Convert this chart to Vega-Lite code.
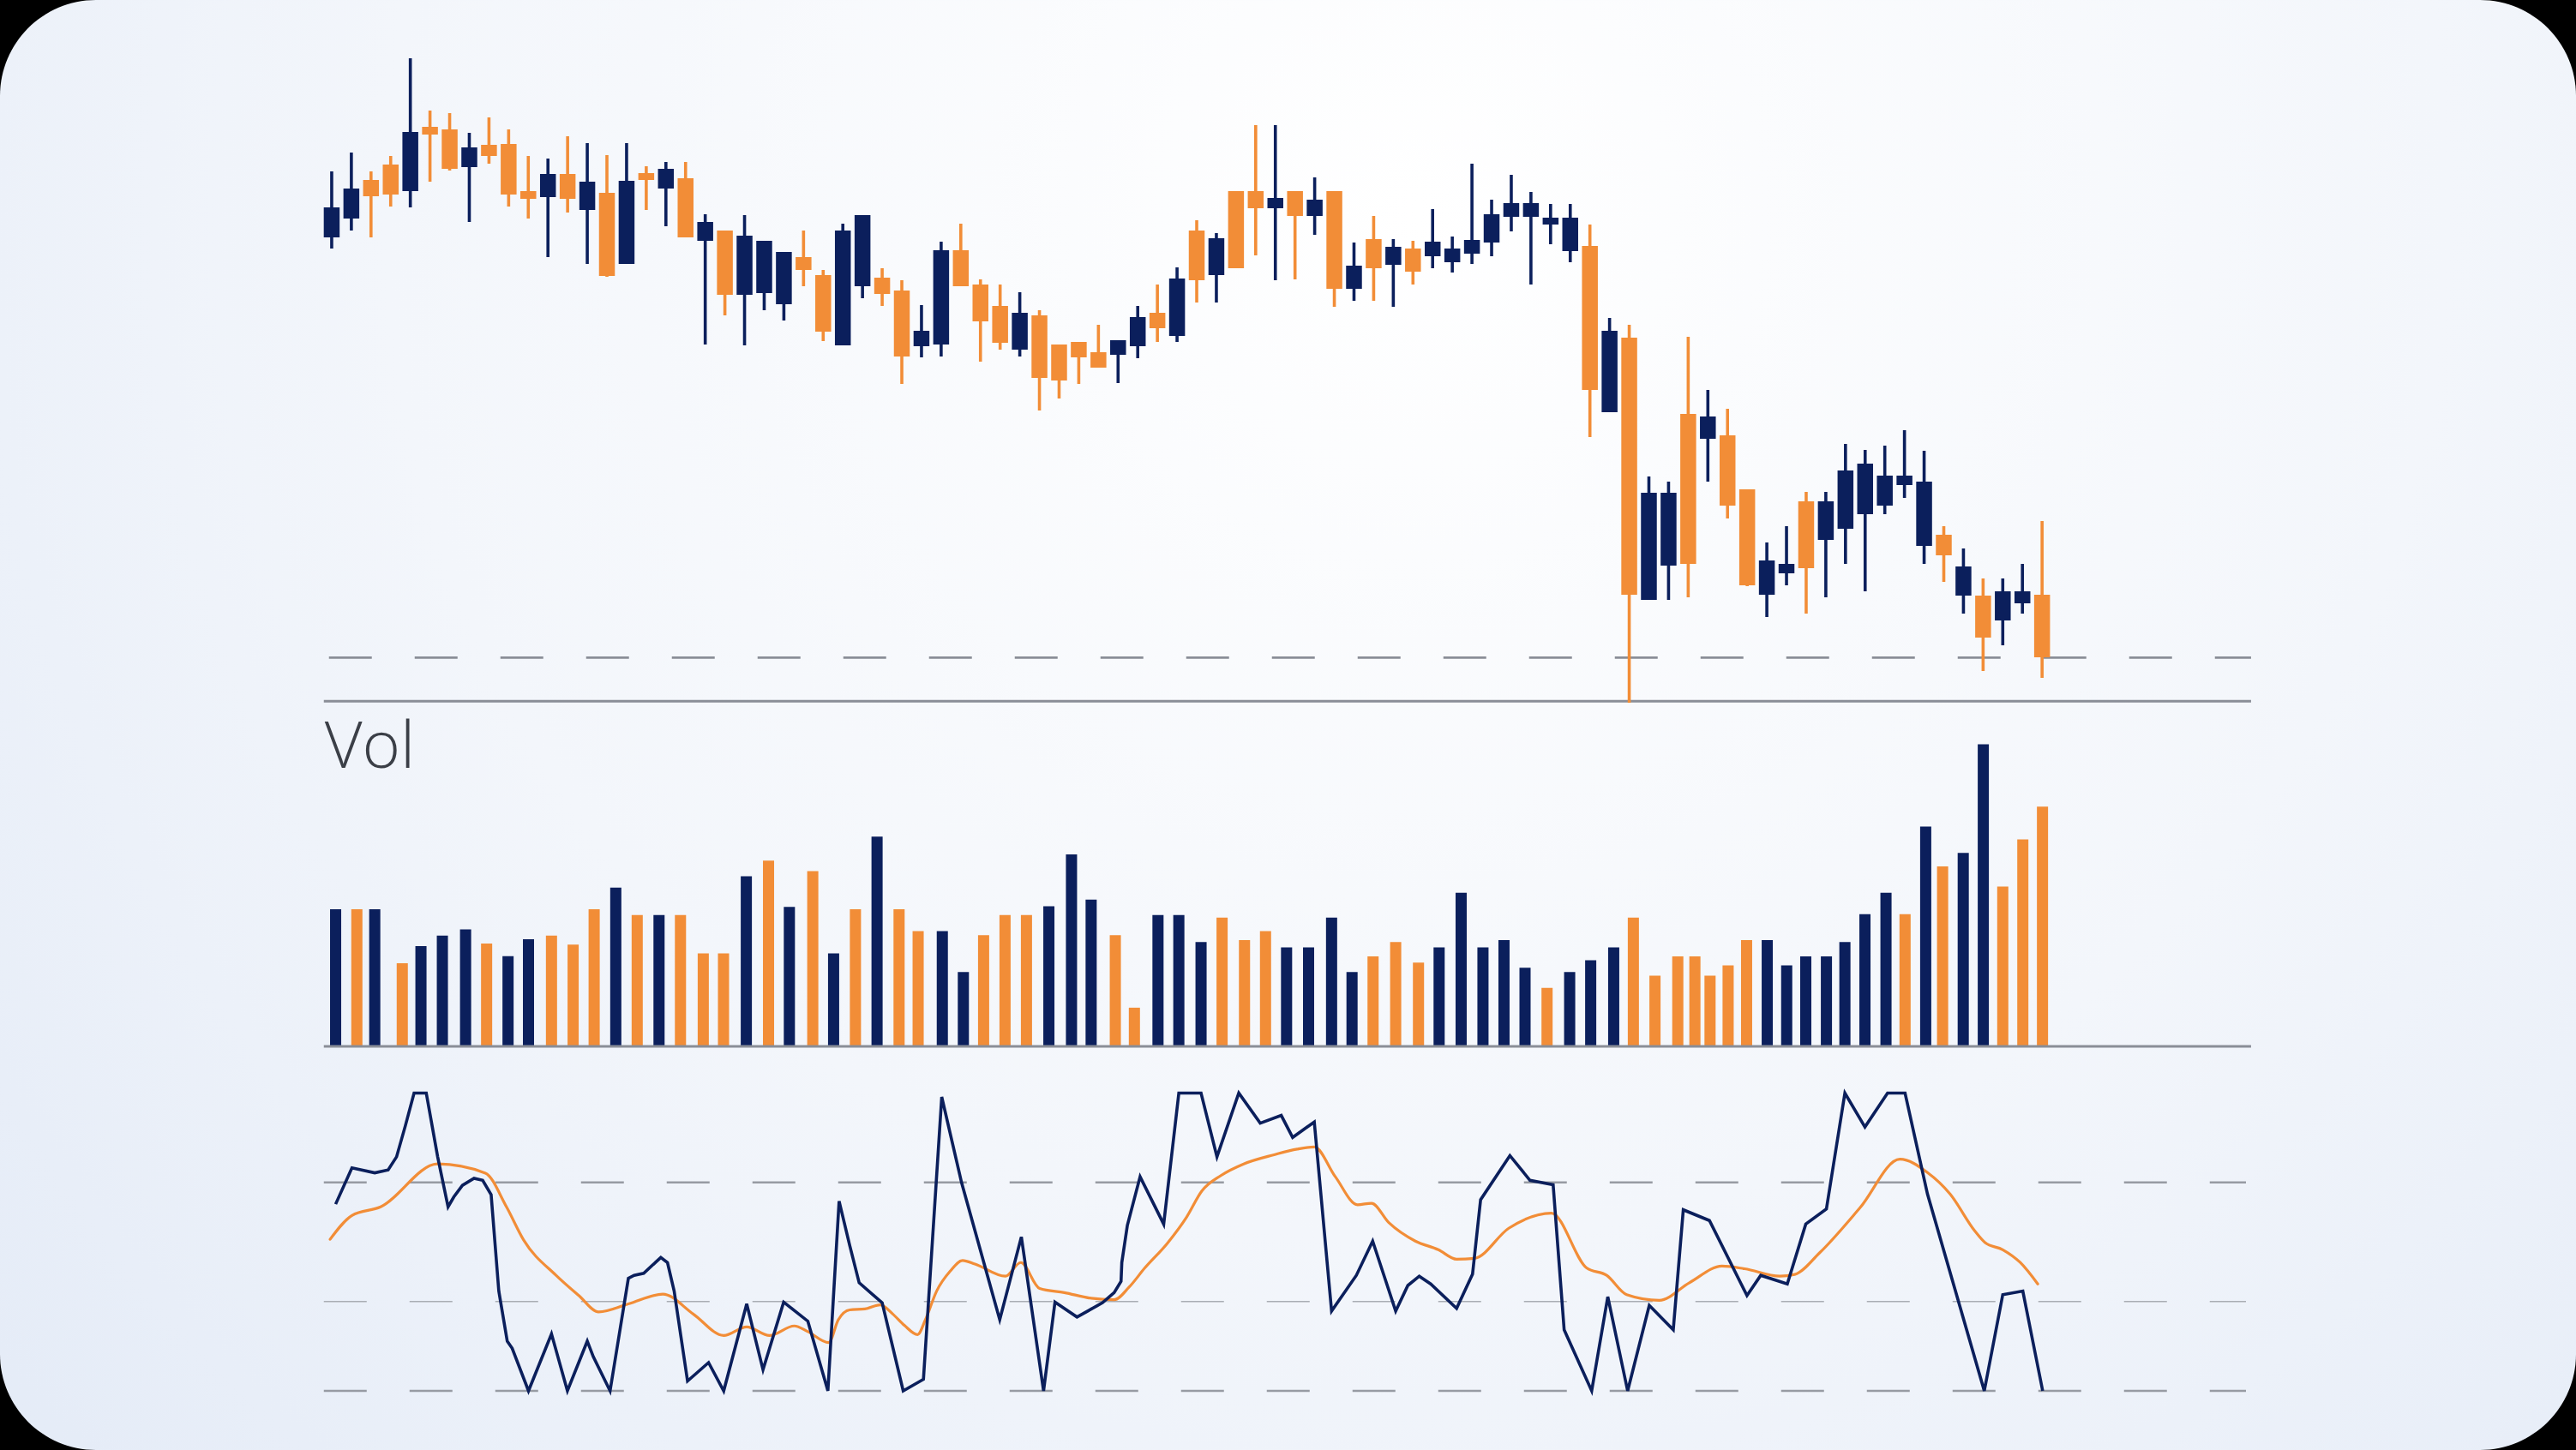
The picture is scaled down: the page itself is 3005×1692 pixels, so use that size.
{
  "$schema": "https://vega.github.io/schema/vega-lite/v6.json",
  "width": 3005,
  "height": 1692,
  "padding": 0,
  "autosize": {"type": "fit", "contains": "padding"},
  "background": "#000000",
  "config": {"view": {"stroke": null}},
  "datasets": {
    "candles": [
      {"t":0,"open":141.5,"high":149.2,"low":140.2,"close":145.0},
      {"t":1,"open":143.7,"high":151.4,"low":142.3,"close":147.2},
      {"t":2,"open":148.2,"high":149.2,"low":141.5,"close":146.3},
      {"t":3,"open":150.0,"high":151.0,"low":145.1,"close":146.5},
      {"t":4,"open":146.9,"high":162.4,"low":145.0,"close":153.8},
      {"t":5,"open":154.4,"high":156.3,"low":148.0,"close":153.5},
      {"t":6,"open":154.1,"high":156.0,"low":149.3,"close":149.5},
      {"t":7,"open":149.7,"high":153.7,"low":143.3,"close":152.0},
      {"t":8,"open":152.3,"high":155.5,"low":150.1,"close":151.0},
      {"t":9,"open":152.4,"high":154.1,"low":145.1,"close":146.5},
      {"t":10,"open":146.9,"high":151.0,"low":143.7,"close":146.0},
      {"t":11,"open":146.2,"high":150.7,"low":139.2,"close":148.9},
      {"t":12,"open":148.9,"high":153.3,"low":144.4,"close":146.0},
      {"t":13,"open":144.7,"high":152.5,"low":138.4,"close":148.0},
      {"t":14,"open":146.7,"high":151.1,"low":136.9,"close":137.0},
      {"t":15,"open":138.4,"high":152.5,"low":138.4,"close":148.1},
      {"t":16,"open":149.0,"high":149.8,"low":144.7,"close":148.2},
      {"t":17,"open":147.2,"high":150.3,"low":142.8,"close":149.5},
      {"t":18,"open":148.4,"high":150.3,"low":141.5,"close":141.5},
      {"t":19,"open":141.1,"high":144.2,"low":129.0,"close":143.3},
      {"t":20,"open":142.3,"high":142.3,"low":132.4,"close":134.8},
      {"t":21,"open":134.8,"high":144.1,"low":128.9,"close":141.7},
      {"t":22,"open":135.0,"high":141.1,"low":133.0,"close":141.1},
      {"t":23,"open":133.7,"high":139.8,"low":131.8,"close":139.8},
      {"t":24,"open":139.2,"high":142.3,"low":135.8,"close":137.7},
      {"t":25,"open":137.1,"high":137.7,"low":129.4,"close":130.5},
      {"t":26,"open":128.9,"high":143.1,"low":128.9,"close":142.3},
      {"t":27,"open":135.8,"high":144.1,"low":134.4,"close":144.1},
      {"t":28,"open":136.8,"high":137.9,"low":133.5,"close":134.9},
      {"t":29,"open":135.3,"high":136.5,"low":124.4,"close":127.6},
      {"t":30,"open":128.8,"high":133.6,"low":127.5,"close":130.6},
      {"t":31,"open":129.0,"high":141.0,"low":127.6,"close":140.0},
      {"t":32,"open":140.0,"high":143.1,"low":135.8,"close":135.8},
      {"t":33,"open":136.0,"high":136.6,"low":127.0,"close":131.7},
      {"t":34,"open":133.5,"high":136.0,"low":128.4,"close":129.2},
      {"t":35,"open":128.4,"high":135.1,"low":127.6,"close":132.7},
      {"t":36,"open":132.4,"high":133.0,"low":121.3,"close":125.1},
      {"t":37,"open":129.0,"high":129.0,"low":122.7,"close":124.8},
      {"t":38,"open":129.3,"high":129.3,"low":124.4,"close":127.5},
      {"t":39,"open":128.1,"high":131.3,"low":126.3,"close":126.3},
      {"t":40,"open":127.8,"high":129.5,"low":124.5,"close":129.5},
      {"t":41,"open":128.8,"high":133.5,"low":127.4,"close":132.2},
      {"t":42,"open":132.7,"high":136.0,"low":129.3,"close":130.9},
      {"t":43,"open":130.0,"high":138.0,"low":129.3,"close":136.7},
      {"t":44,"open":142.3,"high":143.5,"low":133.9,"close":136.5},
      {"t":45,"open":137.1,"high":142.0,"low":133.9,"close":141.4},
      {"t":46,"open":146.9,"high":146.9,"low":137.9,"close":137.9},
      {"t":47,"open":146.9,"high":154.6,"low":139.4,"close":144.9},
      {"t":48,"open":144.9,"high":154.6,"low":136.5,"close":146.1},
      {"t":49,"open":146.9,"high":146.9,"low":136.6,"close":144.0},
      {"t":50,"open":144.0,"high":148.5,"low":141.8,"close":145.9},
      {"t":51,"open":146.9,"high":146.9,"low":133.4,"close":135.5},
      {"t":52,"open":135.5,"high":140.9,"low":134.1,"close":138.2},
      {"t":53,"open":141.3,"high":144.0,"low":134.1,"close":137.9},
      {"t":54,"open":138.3,"high":141.3,"low":133.4,"close":140.4},
      {"t":55,"open":140.2,"high":141.1,"low":136.0,"close":137.5},
      {"t":56,"open":139.3,"high":144.8,"low":137.9,"close":141.0},
      {"t":57,"open":138.6,"high":141.6,"low":137.4,"close":140.2},
      {"t":58,"open":139.6,"high":150.1,"low":138.4,"close":141.2},
      {"t":59,"open":140.9,"high":145.9,"low":139.3,"close":144.2},
      {"t":60,"open":143.9,"high":148.8,"low":142.2,"close":145.5},
      {"t":61,"open":143.9,"high":146.8,"low":136.0,"close":145.5},
      {"t":62,"open":143.0,"high":145.4,"low":140.7,"close":143.8},
      {"t":63,"open":139.9,"high":145.4,"low":138.6,"close":143.8},
      {"t":64,"open":140.5,"high":143.0,"low":118.2,"close":123.7},
      {"t":65,"open":121.1,"high":132.1,"low":121.1,"close":130.6},
      {"t":66,"open":129.8,"high":131.3,"low":87.2,"close":99.8},
      {"t":67,"open":99.2,"high":113.6,"low":99.2,"close":111.7},
      {"t":68,"open":103.2,"high":113.0,"low":99.2,"close":111.7},
      {"t":69,"open":120.9,"high":129.9,"low":99.5,"close":103.4},
      {"t":70,"open":118.0,"high":123.7,"low":113.0,"close":120.6},
      {"t":71,"open":118.4,"high":121.5,"low":108.7,"close":110.2},
      {"t":72,"open":112.1,"high":112.1,"low":100.8,"close":100.9},
      {"t":73,"open":99.8,"high":105.9,"low":97.2,"close":103.8},
      {"t":74,"open":102.3,"high":107.8,"low":100.9,"close":103.4},
      {"t":75,"open":110.7,"high":111.8,"low":97.6,"close":102.9},
      {"t":76,"open":106.2,"high":111.8,"low":99.5,"close":110.7},
      {"t":77,"open":107.5,"high":117.4,"low":103.4,"close":114.3},
      {"t":78,"open":109.2,"high":116.7,"low":100.2,"close":115.1},
      {"t":79,"open":110.2,"high":117.2,"low":109.2,"close":113.7},
      {"t":80,"open":112.6,"high":119.0,"low":111.1,"close":113.7},
      {"t":81,"open":105.5,"high":116.6,"low":103.4,"close":113.0},
      {"t":82,"open":106.8,"high":107.8,"low":101.3,"close":104.4},
      {"t":83,"open":99.7,"high":105.2,"low":97.6,"close":103.1},
      {"t":84,"open":99.7,"high":101.7,"low":90.9,"close":94.8},
      {"t":85,"open":96.8,"high":101.7,"low":93.9,"close":100.2},
      {"t":86,"open":98.8,"high":103.4,"low":97.6,"close":100.2},
      {"t":87,"open":99.8,"high":108.4,"low":90.1,"close":92.5}
    ],
    "volume": [
      {"t":0.20,"vol":45.7,"dir":"up"},{"t":1.28,"vol":45.7,"dir":"down"},{"t":2.19,"vol":45.7,"dir":"up"},
      {"t":3.59,"vol":27.7,"dir":"down"},{"t":4.54,"vol":33.4,"dir":"up"},{"t":5.63,"vol":36.9,"dir":"up"},
      {"t":6.81,"vol":39.0,"dir":"up"},{"t":7.88,"vol":34.3,"dir":"down"},{"t":8.97,"vol":30.1,"dir":"up"},
      {"t":10.01,"vol":35.7,"dir":"up"},{"t":11.18,"vol":36.9,"dir":"down"},{"t":12.28,"vol":33.9,"dir":"down"},
      {"t":13.35,"vol":45.7,"dir":"down"},{"t":14.45,"vol":52.9,"dir":"up"},{"t":15.54,"vol":43.8,"dir":"down"},
      {"t":16.65,"vol":43.8,"dir":"up"},{"t":17.74,"vol":43.8,"dir":"down"},{"t":18.90,"vol":31.0,"dir":"down"},
      {"t":19.93,"vol":31.0,"dir":"down"},{"t":21.09,"vol":56.7,"dir":"up"},{"t":22.22,"vol":61.9,"dir":"down"},
      {"t":23.28,"vol":46.5,"dir":"up"},{"t":24.47,"vol":58.4,"dir":"down"},{"t":25.53,"vol":31.0,"dir":"up"},
      {"t":26.64,"vol":45.7,"dir":"down"},{"t":27.74,"vol":69.9,"dir":"up"},{"t":28.86,"vol":45.7,"dir":"down"},
      {"t":29.83,"vol":38.4,"dir":"down"},{"t":31.06,"vol":38.4,"dir":"up"},{"t":32.13,"vol":24.8,"dir":"up"},
      {"t":33.16,"vol":37.1,"dir":"down"},{"t":34.25,"vol":43.8,"dir":"down"},{"t":35.34,"vol":43.8,"dir":"down"},
      {"t":36.48,"vol":46.7,"dir":"up"},{"t":37.63,"vol":64.0,"dir":"up"},{"t":38.63,"vol":48.9,"dir":"up"},
      {"t":39.86,"vol":37.1,"dir":"down"},{"t":40.83,"vol":12.9,"dir":"down"},{"t":42.03,"vol":43.8,"dir":"up"},
      {"t":43.09,"vol":43.8,"dir":"up"},{"t":44.22,"vol":34.8,"dir":"up"},{"t":45.29,"vol":42.9,"dir":"down"},
      {"t":46.43,"vol":35.4,"dir":"down"},{"t":47.50,"vol":38.4,"dir":"down"},{"t":48.57,"vol":33.0,"dir":"up"},
      {"t":49.69,"vol":33.0,"dir":"up"},{"t":50.86,"vol":42.9,"dir":"up"},{"t":51.90,"vol":24.8,"dir":"up"},
      {"t":52.97,"vol":30.0,"dir":"down"},{"t":54.12,"vol":34.8,"dir":"down"},{"t":55.28,"vol":27.9,"dir":"down"},
      {"t":56.33,"vol":33.0,"dir":"up"},{"t":57.45,"vol":51.2,"dir":"up"},{"t":58.56,"vol":33.0,"dir":"up"},
      {"t":59.63,"vol":35.4,"dir":"up"},{"t":60.70,"vol":26.2,"dir":"up"},{"t":61.82,"vol":19.5,"dir":"down"},
      {"t":62.97,"vol":24.8,"dir":"up"},{"t":64.04,"vol":28.7,"dir":"up"},{"t":65.21,"vol":33.0,"dir":"up"},
      {"t":66.21,"vol":42.9,"dir":"down"},{"t":67.31,"vol":23.6,"dir":"down"},{"t":68.47,"vol":30.0,"dir":"down"},
      {"t":69.34,"vol":30.0,"dir":"down"},{"t":70.11,"vol":23.6,"dir":"down"},{"t":71.03,"vol":27.0,"dir":"down"},
      {"t":71.97,"vol":35.4,"dir":"down"},{"t":73.02,"vol":35.4,"dir":"up"},{"t":74.01,"vol":27.0,"dir":"up"},
      {"t":74.98,"vol":30.0,"dir":"up"},{"t":76.03,"vol":30.0,"dir":"up"},{"t":76.97,"vol":34.8,"dir":"up"},
      {"t":77.99,"vol":44.1,"dir":"up"},{"t":79.06,"vol":51.2,"dir":"up"},{"t":80.03,"vol":44.1,"dir":"down"},
      {"t":81.08,"vol":73.3,"dir":"up"},{"t":81.94,"vol":60.0,"dir":"down"},{"t":82.99,"vol":64.5,"dir":"up"},
      {"t":84.01,"vol":100.7,"dir":"up"},{"t":85.00,"vol":53.3,"dir":"down"},{"t":86.02,"vol":69.0,"dir":"down"},
      {"t":87.02,"vol":79.9,"dir":"down"}
    ],
    "k": [
      {"t":0.20,"k":62.7},{"t":1.03,"k":74.9},{"t":2.19,"k":73.2},{"t":2.87,"k":74.2},{"t":3.30,"k":78.6},
      {"t":3.75,"k":89.1},{"t":4.19,"k":100},{"t":4.81,"k":100},{"t":5.39,"k":78.6},{"t":5.92,"k":61.8},
      {"t":6.21,"k":65.1},{"t":6.65,"k":69.0},{"t":7.24,"k":71.4},{"t":7.68,"k":70.7},{"t":8.11,"k":65.9},
      {"t":8.50,"k":33.5},{"t":8.93,"k":16.7},{"t":9.18,"k":14.3},{"t":10.01,"k":0},{"t":11.18,"k":19.1},
      {"t":11.99,"k":0},{"t":13.00,"k":16.7},{"t":13.31,"k":11.4},{"t":14.16,"k":0},{"t":15.09,"k":37.8},
      {"t":15.38,"k":38.8},{"t":15.87,"k":39.5},{"t":16.74,"k":44.8},{"t":17.08,"k":43.1},{"t":17.42,"k":33.5},
      {"t":18.10,"k":3.3},{"t":19.17,"k":9.5},{"t":19.94,"k":0},{"t":21.11,"k":29.2},{"t":21.94,"k":7.1},
      {"t":22.99,"k":29.8},{"t":24.22,"k":23.4},{"t":25.24,"k":0},{"t":25.81,"k":63.7},{"t":26.35,"k":48.8},
      {"t":26.83,"k":36.3},{"t":28.00,"k":29.6},{"t":29.07,"k":0},{"t":30.10,"k":3.9},{"t":31.03,"k":98.7},
      {"t":32.04,"k":69.9},{"t":33.98,"k":23.9},{"t":35.08,"k":51.7},{"t":36.21,"k":0},{"t":36.79,"k":29.8},
      {"t":37.91,"k":24.8},{"t":39.21,"k":29.6},{"t":39.80,"k":33.0},{"t":40.15,"k":36.8},{"t":40.19,"k":43.1},
      {"t":40.47,"k":55.5},{"t":41.12,"k":71.9},{"t":42.32,"k":56.0},{"t":43.09,"k":100},{"t":44.22,"k":100},
      {"t":45.03,"k":78.6},{"t":46.14,"k":100},{"t":47.23,"k":89.9},{"t":48.30,"k":92.5},{"t":48.88,"k":85.1},
      {"t":49.98,"k":90.3},{"t":50.86,"k":26.8},{"t":52.12,"k":38.8},{"t":52.95,"k":50.3},{"t":54.12,"k":26.8},
      {"t":54.74,"k":35.4},{"t":55.32,"k":38.5},{"t":55.90,"k":35.9},{"t":57.22,"k":27.7},{"t":58.03,"k":39.2},
      {"t":58.44,"k":64.2},{"t":59.93,"k":79.0},{"t":60.95,"k":70.7},{"t":62.13,"k":69.2},{"t":62.69,"k":20.5},
      {"t":64.09,"k":0},{"t":64.91,"k":31.6},{"t":65.92,"k":0},{"t":67.02,"k":28.7},{"t":68.24,"k":20.5},
      {"t":68.75,"k":60.8},{"t":70.08,"k":57.2},{"t":71.99,"k":32.0},{"t":72.69,"k":38.8},{"t":74.04,"k":35.9},
      {"t":74.98,"k":56.0},{"t":76.03,"k":61.1},{"t":76.97,"k":100},{"t":77.99,"k":88.6},{"t":79.14,"k":100},
      {"t":80.03,"k":100},{"t":81.17,"k":66.1},{"t":84.06,"k":0},{"t":85.00,"k":32.3},{"t":86.02,"k":33.5},
      {"t":87.03,"k":0}
    ],
    "d": [
      {"t":-0.08,"d":50.9},{"t":1.03,"d":58.9},{"t":2.49,"d":61.8},{"t":5.39,"d":76.2},{"t":7.82,"d":73.1},
      {"t":8.89,"d":61.8},{"t":9.76,"d":50.7},{"t":11.41,"d":38.8},{"t":12.57,"d":32.0},{"t":13.58,"d":26.5},
      {"t":15.09,"d":29.2},{"t":16.84,"d":32.5},{"t":18.39,"d":25.8},{"t":19.94,"d":18.6},{"t":21.11,"d":21.5},
      {"t":22.27,"d":18.6},{"t":23.53,"d":21.8},{"t":24.22,"d":19.9},{"t":25.28,"d":16.2},{"t":25.77,"d":23.9},
      {"t":26.35,"d":27.2},{"t":27.12,"d":27.5},{"t":27.90,"d":28.9},{"t":28.54,"d":25.8},{"t":29.13,"d":22.0},
      {"t":29.80,"d":18.9},{"t":30.20,"d":23.9},{"t":30.77,"d":33.5},{"t":31.46,"d":40.2},{"t":32.09,"d":43.8},
      {"t":32.72,"d":42.6},{"t":34.27,"d":38.5},{"t":35.05,"d":43.1},{"t":36.01,"d":34.4},{"t":37.27,"d":33.0},
      {"t":38.63,"d":31.1},{"t":39.80,"d":30.6},{"t":40.57,"d":34.9},{"t":41.35,"d":41.2},{"t":42.51,"d":49.6},
      {"t":43.49,"d":58.4},{"t":44.26,"d":67.1},{"t":45.23,"d":72.3},{"t":46.39,"d":76.2},{"t":47.94,"d":79.3},
      {"t":49.11,"d":81.2},{"t":49.98,"d":81.9},{"t":51.05,"d":71.9},{"t":52.18,"d":62.5},{"t":52.89,"d":63.0},
      {"t":53.77,"d":56.5},{"t":55.12,"d":50.3},{"t":56.29,"d":47.4},{"t":57.22,"d":44.2},{"t":58.13,"d":44.5},
      {"t":59.87,"d":54.6},{"t":62.04,"d":59.7},{"t":63.83,"d":41.3},{"t":64.85,"d":38.8},{"t":65.87,"d":32.3},
      {"t":67.53,"d":30.4},{"t":69.06,"d":36.3},{"t":70.72,"d":41.9},{"t":71.87,"d":41.0},{"t":73.66,"d":38.5},
      {"t":74.42,"d":39.1},{"t":75.69,"d":46.4},{"t":77.74,"d":61.5},{"t":79.77,"d":77.8},{"t":81.17,"d":73.3},
      {"t":82.32,"d":66.1},{"t":83.59,"d":53.6},{"t":84.10,"d":49.8},{"t":85.00,"d":47.4},{"t":85.89,"d":43.1},
      {"t":86.78,"d":35.9}
    ]
  },
  "resolve": {"scale": {"y": "independent", "color": "independent"}},
  "layer": [
    {
      "data": {"values": [{"panel": "background"}]},
      "mark": {"type": "rect", "cornerRadius": 112, "color": {"gradient": "radial", "x1": 0.55, "y1": 0.3, "r1": 0, "x2": 0.55, "y2": 0.3, "r2": 0.8, "stops": [{"offset": 0, "color": "#ffffff"}, {"offset": 0.5, "color": "#f3f6fb"}, {"offset": 1, "color": "#e1e9f6"}]}}
    },
    {
      "data": {"values": [{"level": "support"}]},
      "mark": {"type": "rule", "color": "#8a8e97", "strokeWidth": 2.7, "strokeDash": [50, 50]},
      "encoding": {
        "x": {"datum": -0.139, "type": "quantitative", "scale": {"domain": [-16.654, 113.94], "nice": false, "zero": false}, "axis": null},
        "x2": {"datum": 97.63},
        "y": {"datum": 92.46, "type": "quantitative", "scale": {"domain": [0, 169.2], "nice": false, "zero": false}, "axis": null}
      }
    },
    {
      "data": {"values": [{"level": "base"}]},
      "mark": {"type": "rule", "color": "#8a8e97", "strokeWidth": 3},
      "encoding": {
        "x": {"datum": -0.4, "type": "quantitative", "scale": {"domain": [-16.654, 113.94], "nice": false, "zero": false}, "axis": null},
        "x2": {"datum": 97.63},
        "y": {"datum": 87.37, "type": "quantitative", "scale": {"domain": [0, 169.2], "nice": false, "zero": false}, "axis": null}
      }
    },
    {
      "data": {"name": "candles"},
      "mark": {"type": "rule", "strokeWidth": 3.6},
      "encoding": {
        "x": {"field": "t", "type": "quantitative", "scale": {"domain": [-16.654, 113.94], "nice": false, "zero": false}, "axis": null},
        "y": {"field": "low", "type": "quantitative", "scale": {"domain": [0, 169.2], "nice": false, "zero": false}, "axis": null},
        "y2": {"field": "high"},
        "color": {"condition": {"test": "datum.close > datum.open", "value": "#0b1f5c"}, "value": "#f28d37"}
      }
    },
    {
      "data": {"name": "candles"},
      "mark": {"type": "bar", "width": 18.5},
      "encoding": {
        "x": {"field": "t", "type": "quantitative", "scale": {"domain": [-16.654, 113.94], "nice": false, "zero": false}, "axis": null},
        "y": {"field": "open", "type": "quantitative", "scale": {"domain": [0, 169.2], "nice": false, "zero": false}, "axis": null},
        "y2": {"field": "close"},
        "color": {"condition": {"test": "datum.close > datum.open", "value": "#0b1f5c"}, "value": "#f28d37"}
      }
    },
    {
      "data": {"values": [{"label": "Vol"}]},
      "mark": {"type": "text", "align": "left", "baseline": "alphabetic", "font": "Open Sans", "fontWeight": 300, "fontSize": 76, "color": "#3b3f47"},
      "encoding": {
        "x": {"datum": -0.36, "type": "quantitative", "scale": {"domain": [-16.654, 113.94], "nice": false, "zero": false}, "axis": null},
        "y": {"datum": 92.86, "type": "quantitative", "scale": {"domain": [-134.571, 348.857], "nice": false, "zero": false}, "axis": null},
        "text": {"field": "label"}
      }
    },
    {
      "data": {"name": "volume"},
      "mark": {"type": "bar", "width": 13},
      "encoding": {
        "x": {"field": "t", "type": "quantitative", "scale": {"domain": [-16.654, 113.94], "nice": false, "zero": false}, "axis": null},
        "y": {"field": "vol", "type": "quantitative", "scale": {"domain": [-134.571, 348.857], "nice": false, "zero": false}, "axis": null},
        "color": {"field": "dir", "type": "nominal", "scale": {"domain": ["up", "down"], "range": ["#0b1f5c", "#f28d37"]}, "legend": null}
      }
    },
    {
      "data": {"values": [{"level": "volbase"}]},
      "mark": {"type": "rule", "color": "#8a8e97", "strokeWidth": 3},
      "encoding": {
        "x": {"datum": -0.4, "type": "quantitative", "scale": {"domain": [-16.654, 113.94], "nice": false, "zero": false}, "axis": null},
        "x2": {"datum": 97.63},
        "y": {"datum": 0, "type": "quantitative", "scale": {"domain": [-134.571, 348.857], "nice": false, "zero": false}, "axis": null}
      }
    },
    {
      "data": {"values": [{"level": 70}, {"level": 0}]},
      "mark": {"type": "rule", "color": "#979ba3", "strokeWidth": 2.7, "strokeDash": [50, 50]},
      "encoding": {
        "x": {"datum": -0.4, "type": "quantitative", "scale": {"domain": [-16.654, 113.94], "nice": false, "zero": false}, "axis": null},
        "x2": {"datum": 97.37},
        "y": {"field": "level", "type": "quantitative", "scale": {"domain": [-19.856, 467.05], "nice": false, "zero": false}, "axis": null}
      }
    },
    {
      "data": {"values": [{"level": 30}]},
      "mark": {"type": "rule", "color": "#a9adb4", "strokeWidth": 1.5, "strokeDash": [50, 50]},
      "encoding": {
        "x": {"datum": -0.4, "type": "quantitative", "scale": {"domain": [-16.654, 113.94], "nice": false, "zero": false}, "axis": null},
        "x2": {"datum": 97.37},
        "y": {"field": "level", "type": "quantitative", "scale": {"domain": [-19.856, 467.05], "nice": false, "zero": false}, "axis": null}
      }
    },
    {
      "data": {"name": "d"},
      "mark": {"type": "line", "color": "#f28d37", "strokeWidth": 3.2, "interpolate": "monotone", "strokeCap": "round"},
      "encoding": {
        "x": {"field": "t", "type": "quantitative", "scale": {"domain": [-16.654, 113.94], "nice": false, "zero": false}, "axis": null},
        "y": {"field": "d", "type": "quantitative", "scale": {"domain": [-19.856, 467.05], "nice": false, "zero": false}, "axis": null}
      }
    },
    {
      "data": {"name": "k"},
      "mark": {"type": "line", "color": "#0b1f5c", "strokeWidth": 3.6},
      "encoding": {
        "x": {"field": "t", "type": "quantitative", "scale": {"domain": [-16.654, 113.94], "nice": false, "zero": false}, "axis": null},
        "y": {"field": "k", "type": "quantitative", "scale": {"domain": [-19.856, 467.05], "nice": false, "zero": false}, "axis": null}
      }
    }
  ]
}
